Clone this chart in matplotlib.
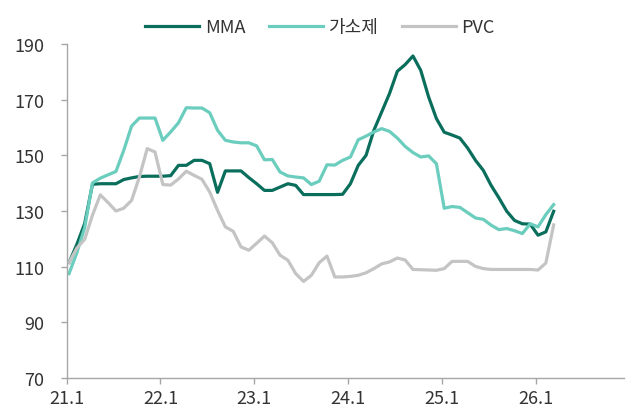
import numpy as np
import matplotlib
matplotlib.use("Agg")
import matplotlib.pyplot as plt

plt.rcParams['font.family'] = ['Noto Sans CJK KR', 'DejaVu Sans']

# Monthly data, 21.1 .. 26.3
mma = [111.5, 118, 125.5, 139.6, 139.8, 139.8, 139.8, 141.3, 141.9, 142.4,
       142.5, 142.5, 142.5, 142.7, 146.4, 146.4, 148.2, 148.2, 147, 136.7,
       144.4, 144.4, 144.4, 142, 139.8, 137.4, 137.4, 138.6, 139.8, 139.2,
       135.9, 135.9, 135.9, 135.9, 135.9, 136, 139.8, 146.4, 150, 159,
       165.6, 172.2, 180.2, 182.6, 185.7, 180.5, 171, 163.2, 158.3, 157.3,
       156.2, 152.6, 148.2, 144.6, 139.2, 134.7, 129.9, 126.6, 125.4, 125.3,
       121.3, 122.5, 129.9]
plasticizer = [107.5, 115, 124, 140.1, 141.8, 143, 144.2, 151.8, 160.5, 163.4,
               163.4, 163.4, 155.4, 158.4, 161.7, 167.1, 167, 167, 165.3, 159,
               155.4, 154.8, 154.5, 154.5, 153.4, 148.4, 148.5, 144, 142.6, 142.2,
               141.9, 139.5, 140.7, 146.6, 146.5, 148.2, 149.4, 155.6, 156.9, 158.4,
               159.6, 158.6, 156.2, 153.2, 151, 149.4, 149.8, 147, 131, 131.6,
               131.3, 129.4, 127.5, 127, 124.9, 123.3, 123.7, 122.9, 121.9, 125.4,
               124.3, 128.7, 132.3]
pvc = [111.5, 116.7, 119.8, 128.5, 135.8, 133, 130, 131, 133.8, 142.2,
       152.4, 151.2, 139.5, 139.3, 141.5, 144.3, 142.8, 141.4, 136.8, 130.2,
       124.3, 122.7, 117.1, 115.9, 118.4, 121, 118.6, 114.1, 112.3, 107.5,
       104.7, 106.9, 111.4, 113.8, 106.3, 106.3, 106.5, 106.9, 107.8, 109.3,
       111, 111.7, 113.1, 112.4, 109, 108.9, 108.8, 108.7, 109.3, 111.9,
       111.9, 111.9, 110.1, 109.3, 109, 109, 109, 109, 109, 109,
       108.8, 111.3, 125]

series_names = ['MMA', '가소제', 'PVC']
colors = ['#0A6E5C', '#6ACDBD', '#C4C4C4']
tick_labels = ['21.1', '22.1', '23.1', '24.1', '25.1', '26.1']
y_ticks = [70, 90, 110, 130, 150, 170, 190]

x = np.arange(len(mma)) + 0.3

fig = plt.figure(figsize=(6.32, 4.10), dpi=100)
ax = fig.add_axes([66.7 / 632, 1 - 379 / 410, (624 - 66.7) / 632, (379 - 45) / 410])

for vals, name, col in zip([mma, plasticizer, pvc], series_names, colors):
    ax.plot(x, vals, color=col, lw=2.3, label=name, solid_joinstyle='round')

ax.set_xlim(0, 71.3)
ax.set_ylim(70, 190)
ax.set_yticks(y_ticks)
ax.set_xticks(np.arange(len(tick_labels)) * 12)
ax.set_xticklabels(tick_labels)

for s in ['top', 'right']:
    ax.spines[s].set_visible(False)
for s in ['left', 'bottom']:
    ax.spines[s].set_color('#A6A6A6')
    ax.spines[s].set_linewidth(1.0)

ax.tick_params(axis='y', length=4, width=1, color='#A6A6A6', pad=12,
               labelsize=13, labelcolor='#333333')
ax.tick_params(axis='x', length=4, width=1, color='#A6A6A6', pad=4,
               labelsize=13, labelcolor='#333333')

handles, labels = ax.get_legend_handles_labels()
fig.legend(handles, labels, loc='center', bbox_to_anchor=(320 / 632, 1 - 28 / 410),
           ncol=3, frameon=False, fontsize=13, handlelength=3.0,
           handletextpad=0.3, columnspacing=1.3, labelcolor='#333333')

fig.savefig('out.png', dpi=100)
